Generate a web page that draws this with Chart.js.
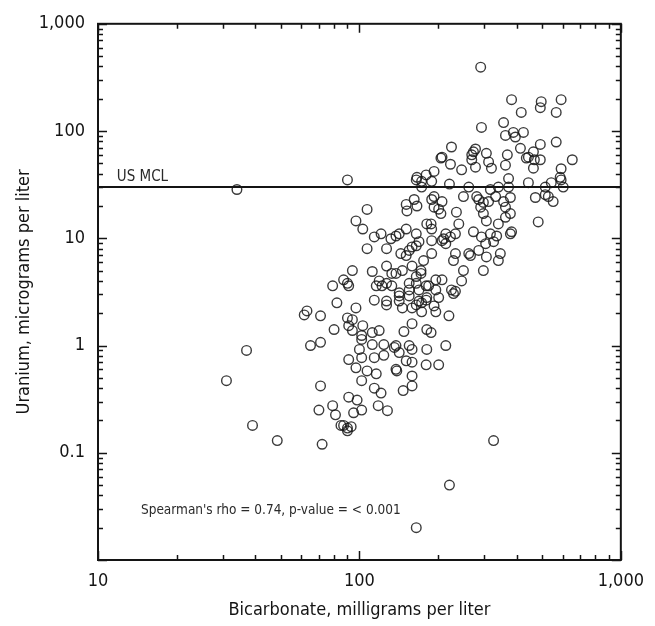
<!DOCTYPE html>
<html>
<head>
<meta charset="utf-8">
<script src="https://cdn.jsdelivr.net/npm/chart.js@4.4.1/dist/chart.umd.min.js"></script>
<style>
  html, body { margin: 0; padding: 0; background: #fff; }
  #wrap { width: 655px; height: 626px; position: relative; }
</style>
</head>
<body>
<div id="wrap"><canvas id="chart"></canvas></div>
<script>
// bicarbonate (mg/L) and uranium (ug/L), one pair per sample
const bicarbonate = [
  291, 34, 90, 31, 37, 39, 48.5, 72, 326, 221, 165,
  382, 416, 492, 496, 566, 591, 293, 356, 362, 388, 395, 424, 413, 492, 463, 566,
  225, 207, 223, 246, 269, 269, 273, 278, 278, 306, 312, 320, 362, 368, 443, 467, 492, 463, 591, 652, 205, 435,
  166, 180, 193, 173, 189, 221, 262, 281, 317, 340, 372, 443, 471, 514, 542, 591, 602, 528, 250, 193, 162, 586, 514,
  551, 483, 372, 332, 378, 356, 362, 378, 362, 382, 378, 340, 335, 326, 346, 340, 306, 298, 317, 304, 293, 291, 298, 306, 286,
  201, 205, 235, 240, 273, 214, 223, 210, 188, 189, 151, 165, 286, 266, 233, 229, 207, 250, 246, 196, 233,
  159, 169, 151, 146, 159, 176, 172, 165, 189, 189, 166, 151, 152, 312, 298, 207, 233, 262,
  155, 133, 127, 119, 122, 112, 133, 142, 155, 169, 180, 196, 207, 225, 180, 169, 159, 142, 127, 114,
  94, 87, 90, 79, 82, 97, 94, 91, 103, 61.5, 63, 71, 80, 65, 71, 102, 112, 119, 138, 155, 159, 181, 188, 181, 214, 201, 180, 138, 139,
  107, 97, 103, 107, 114, 121, 127, 132, 138, 142, 144, 165, 181, 189, 193, 173, 165, 155, 214,
  91, 116, 127, 138, 165, 172, 184, 142, 173, 193, 201, 146, 90, 94, 102, 127, 165, 173, 196, 220, 159, 148,
  100, 112, 124, 136, 142, 159, 91, 102, 114, 124, 151, 97, 107, 116, 159, 102, 114, 121, 147, 159, 71,
  91, 98, 102, 95, 118, 128, 70, 79, 81, 85, 90, 93, 90, 87, 155, 181, 229
];
const uranium = [
  394, 28.5, 35, 0.47, 0.9, 0.18, 0.13, 0.12, 0.13, 0.05, 0.02,
  196, 149, 165, 188, 149, 196, 108, 120, 91, 97, 88, 97, 69, 75, 64, 79,
  71, 57, 49, 43.5, 54, 60, 64, 68, 46, 62, 51.5, 45, 48, 60, 57, 54, 54, 45, 44.5, 54, 56, 56,
  37, 39, 42, 30, 34, 32, 30, 24.5, 28.5, 30, 36, 33, 24, 25.5, 33, 35, 30, 24.5, 24.5, 24.5, 23, 37, 30,
  22, 14.2, 30, 24.5, 24, 22, 19.5, 17, 15.7, 11.5, 11, 13.6, 10.5, 9.3, 7.2, 6.2, 6.7, 5.0, 11, 8.9, 10.3, 19.5, 17, 14.5, 23,
  18.7, 17, 17.5, 13.6, 11.5, 11, 10.3, 9.9, 13.6, 12.2, 12.2, 11, 7.7, 6.9, 7.2, 6.2, 9.5, 5.0, 4.0, 4.1, 3.2,
  8.3, 9.3, 6.9, 5.0, 5.5, 6.2, 5.0, 4.4, 9.5, 7.2, 20, 20.7, 18, 22, 21.6, 22, 11, 7.2,
  3.8, 4.7, 5.5, 4.0, 3.6, 4.9, 3.6, 3.1, 3.3, 3.3, 3.6, 3.3, 4.1, 3.3, 2.65, 2.6, 2.24, 2.6, 2.6, 2.65,
  5.0, 4.1, 3.8, 3.6, 2.5, 2.24, 1.74, 1.53, 1.53, 1.93, 2.1, 1.89, 1.41, 1.0, 1.07, 1.14, 1.32, 1.38, 1.0, 1.0, 0.70, 1.41, 1.32, 0.92, 1.0, 0.66, 0.66, 0.60, 0.58,
  18.6, 14.5, 12.2, 8.0, 10.3, 11.0, 8.0, 9.9, 10.5, 11, 7.2, 8.5, 13.6, 23, 19.5, 34, 35, 7.7, 8.9,
  3.6, 3.6, 3.8, 4.7, 3.8, 4.7, 3.6, 2.9, 2.5, 2.34, 2.8, 2.24, 1.81, 1.38, 1.24, 2.39, 2.39, 2.06, 2.06, 1.89, 1.6, 1.35,
  0.92, 1.02, 1.02, 0.96, 0.86, 0.92, 0.74, 0.77, 0.77, 0.81, 0.72, 0.62, 0.58, 0.545, 0.52, 0.47, 0.40, 0.36, 0.38, 0.42, 0.42,
  0.33, 0.31, 0.25, 0.236, 0.275, 0.247, 0.25, 0.275, 0.226, 0.18, 0.17, 0.175, 0.16, 0.18, 2.9, 2.8, 3.05
];

const xTicks = [10, 100, 1000];
const yTicks = [0.01, 0.1, 1, 10, 100, 1000];
const mcl = 30;
const mclLabel = 'US MCL';
const statsLabel = "Spearman's rho = 0.74, p-value = < 0.001";
const xTitle = 'Bicarbonate, milligrams per liter';
const yTitle = 'Uranium, micrograms per liter';

const FONT = "'Liberation Sans Narrow', 'DejaVu Sans Condensed', sans-serif";
const INK = '#141414';

const points = bicarbonate.map((b, i) => ({ x: b, y: uranium[i] }));

function fmt(v) {
  if (v < 0.05) return '';
  return v.toLocaleString('en-US');
}

// inward tick marks on all four sides, the box, and the two notes
const framePlugin = {
  id: 'frame',
  afterDraw(chart) {
    const { ctx, chartArea: a, scales: { x, y } } = chart;
    ctx.save();
    ctx.strokeStyle = INK;
    ctx.lineWidth = 1.5;
    ctx.beginPath();
    const marks = (decades) => {
      const out = [];
      for (let i = 0; i < decades.length - 1; i++) {
        for (let m = 1; m < 10; m++) out.push([decades[i] * m, m === 1 ? 9 : 5]);
      }
      out.push([decades[decades.length - 1], 9]);
      return out;
    };
    marks(xTicks).forEach(([v, len]) => {
      const px = Math.round(x.getPixelForValue(v)) + 0.5;
      ctx.moveTo(px, a.bottom); ctx.lineTo(px, a.bottom - len);
      ctx.moveTo(px, a.top); ctx.lineTo(px, a.top + len);
    });
    marks(yTicks).forEach(([v, len]) => {
      const py = Math.round(y.getPixelForValue(v)) + 0.5;
      ctx.moveTo(a.left, py); ctx.lineTo(a.left + len, py);
      ctx.moveTo(a.right, py); ctx.lineTo(a.right - len, py);
    });
    ctx.stroke();
    ctx.lineWidth = 2;
    ctx.strokeRect(a.left, a.top, a.right - a.left, a.bottom - a.top);

    ctx.fillStyle = '#2a2a2a';
    ctx.textBaseline = 'alphabetic';
    ctx.textAlign = 'left';
    ctx.font = '15px ' + FONT;
    ctx.fillText(mclLabel, x.getPixelForValue(11.8), y.getPixelForValue(mcl) - 6);
    ctx.font = '13.5px ' + FONT;
    ctx.textBaseline = 'middle';
    ctx.fillText(statsLabel, x.getPixelForValue(14.6), y.getPixelForValue(0.029));
    ctx.restore();
  }
};

new Chart(document.getElementById('chart'), {
  type: 'scatter',
  data: {
    datasets: [
      {
        label: 'US MCL',
        data: [{ x: 10, y: mcl }, { x: 1000, y: mcl }],
        showLine: true,
        borderColor: INK,
        borderWidth: 2,
        pointRadius: 0
      },
      {
        label: 'Samples',
        data: points,
        pointStyle: 'circle',
        pointRadius: 4.8,
        pointBorderWidth: 1.4,
        pointBorderColor: 'rgba(25,25,25,0.85)',
        pointBackgroundColor: 'rgba(0,0,0,0)'
      }
    ]
  },
  options: {
    responsive: true,
    maintainAspectRatio: false,
    animation: false,
    layout: { padding: { top: 17, right: 32, left: 0, bottom: 0 } },
    plugins: { legend: { display: false }, tooltip: { enabled: false } },
    scales: {
      x: {
        type: 'logarithmic',
        min: 10,
        max: 1000,
        afterBuildTicks: (s) => { s.ticks = xTicks.map(v => ({ value: v })); },
        afterFit: (s) => { s.height = 66; },
        grid: { display: false, drawTicks: false },
        border: { display: false },
        ticks: {
          padding: 11,
          color: INK,
          font: { family: FONT, size: 18 },
          maxRotation: 0,
          callback: (v) => fmt(v)
        },
        title: {
          display: true,
          text: xTitle,
          color: INK,
          font: { family: FONT, size: 18 },
          padding: { top: 0, bottom: 5 }
        }
      },
      y: {
        type: 'logarithmic',
        min: 0.01,
        max: 1000,
        afterBuildTicks: (s) => { s.ticks = yTicks.map(v => ({ value: v })); },
        afterFit: (s) => { s.width = 98; },
        grid: { display: false, drawTicks: false },
        border: { display: false },
        ticks: {
          padding: 13,
          color: INK,
          font: { family: FONT, size: 18 },
          callback: (v) => fmt(v)
        },
        title: {
          display: true,
          text: yTitle,
          color: INK,
          font: { family: FONT, size: 18 },
          padding: { top: 14, bottom: 0 }
        }
      }
    }
  },
  plugins: [framePlugin]
});
</script>
</body>
</html>
